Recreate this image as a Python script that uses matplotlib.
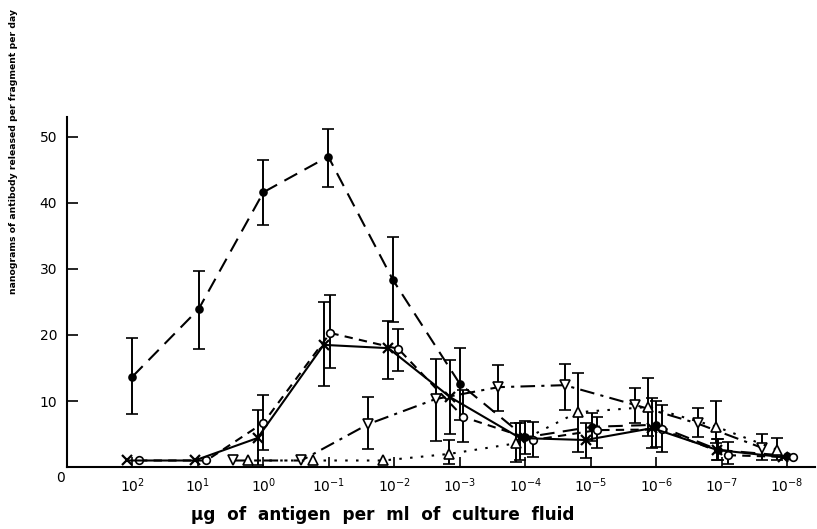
import numpy as np
import matplotlib
matplotlib.use('Agg')
import matplotlib.pyplot as plt

nan = np.nan

# log10 of antigen concentration (ug/ml)
a_logc = [2.0, 0.99, 0.0, -0.99, -1.98, -3.0, -4.0, -5.02, -5.99, -6.95, -8.0]
a_val = [13.7, 23.9, 41.6, 47.0, 28.3, 12.6, 4.5, 6.1, 6.4, 2.6, 1.7]
a_lo = [8.0, 17.9, 36.7, 42.4, 22.0, 7.2, 2.0, 4.0, 3.0, 1.0, nan]
a_hi = [19.5, 29.7, 46.5, 51.1, 34.8, 18.0, 7.0, 8.2, 10.0, 4.2, nan]

b_logc = [1.9, 0.87, 0.0, -1.02, -2.06, -3.05, -4.12, -5.1, -6.08, -7.1, -8.09]
b_val = [1.0, 1.0, 6.7, 20.3, 17.9, 7.6, 4.1, 5.6, 5.7, 1.8, 1.5]
b_lo = [nan, nan, 2.6, 15.0, 14.5, 3.8, 1.5, 2.9, 2.3, 0.5, nan]
b_hi = [nan, nan, 10.9, 26.0, 20.9, 11.7, 6.8, 7.6, 9.4, 3.8, nan]

c_logc = [2.09, 1.05, 0.09, -0.92, -1.91, -2.85, -3.92, -4.92, -5.94, -6.93, -7.94]
c_val = [1.0, 1.0, 4.4, 18.5, 18.0, 10.6, 4.4, 4.1, 5.9, 2.6, 1.5]
c_lo = [nan, nan, 0.3, 12.3, 13.3, 5.0, 1.1, 1.4, 2.9, 1.0, nan]
c_hi = [nan, nan, 8.6, 25.0, 22.1, 16.2, 6.7, 6.6, 10.4, 4.2, nan]

d_logc = [0.46, -0.58, -1.60, -2.63, -3.59, -4.6, -5.68, -6.63, -7.62]
d_val = [1.0, 1.0, 6.5, 10.3, 12.1, 12.4, 9.4, 6.6, 2.9]
d_lo = [nan, nan, 2.7, 3.9, 8.5, 8.6, 6.7, 4.6, 1.0]
d_hi = [nan, nan, 10.6, 16.4, 15.5, 15.6, 12.0, 8.9, 5.0]

e_logc = [0.24, -0.76, -1.83, -2.84, -3.86, -4.8, -5.88, -6.92, -7.85]
e_val = [1.0, 1.0, 1.0, 2.0, 3.6, 8.3, 9.1, 6.1, 2.6]
e_lo = [nan, nan, nan, 0.5, 0.8, 2.3, 4.7, 3.6, 1.0]
e_hi = [nan, nan, nan, 4.1, 6.7, 14.2, 13.5, 10.0, 4.4]

decades = list(range(2, -9, -1))
y_ticks = [10, 20, 30, 40, 50]

fig = plt.figure(figsize=(8.17, 5.29), dpi=100)
ax = fig.add_axes([0.082, 0.117, 0.916, 0.662])


def draw(logc, val, lo, hi, ls, marker, face, ms, mew=1.2):
    x = 10.0 ** np.array(logc)
    y = np.array(val)
    lo = np.array(lo)
    hi = np.array(hi)
    ax.plot(x, y, color='black', linestyle=ls, linewidth=1.5,
            marker=marker, markerfacecolor=face, markeredgecolor='black',
            markersize=ms, markeredgewidth=mew, zorder=3)
    m = ~np.isnan(lo)
    ax.errorbar(x[m], y[m], yerr=[y[m] - lo[m], hi[m] - y[m]], fmt='none',
                ecolor='black', elinewidth=1.4, capsize=4, capthick=1.2, zorder=2)


draw(a_logc, a_val, a_lo, a_hi, (0, (7, 4)), 'o', 'black', 5)
draw(b_logc, b_val, b_lo, b_hi, (0, (4, 3)), 'o', 'white', 5.5)
draw(c_logc, c_val, c_lo, c_hi, '-', 'x', 'black', 6.5, 1.6)
draw(d_logc, d_val, d_lo, d_hi, (0, (7, 3, 1.5, 3)), 'v', 'white', 7)
draw(e_logc, e_val, e_lo, e_hi, (0, (1.2, 4)), '^', 'white', 7)

ax.set_xscale('log')
ax.set_xlim(10 ** 3, 10 ** -8.43)
ax.set_ylim(0, 53)
ax.set_xticks([10.0 ** d for d in decades])
ax.xaxis.set_minor_locator(matplotlib.ticker.NullLocator())
ax.set_yticks(y_ticks)
ax.tick_params(axis='both', direction='in', length=8, width=1.2, labelsize=10, pad=7)
ax.tick_params(axis='x', length=7)

for s in ['top', 'right']:
    ax.spines[s].set_visible(False)
for s in ['left', 'bottom']:
    ax.spines[s].set_linewidth(1.5)

ax.annotate('0', xy=(0, 0), xycoords='axes fraction', xytext=(-5, -8),
            textcoords='offset points', ha='center', va='center', fontsize=10)

fig.text(0.469, 0.027, 'μg  of  antigen  per  ml  of  culture  fluid',
         ha='center', va='center', fontsize=12.2, fontweight='bold')
fig.text(0.016, 0.713, 'nanograms of antibody released per fragment per day',
         rotation=90, ha='center', va='center', fontsize=6.7, fontweight='bold')

plt.savefig('out.png', dpi=100)
